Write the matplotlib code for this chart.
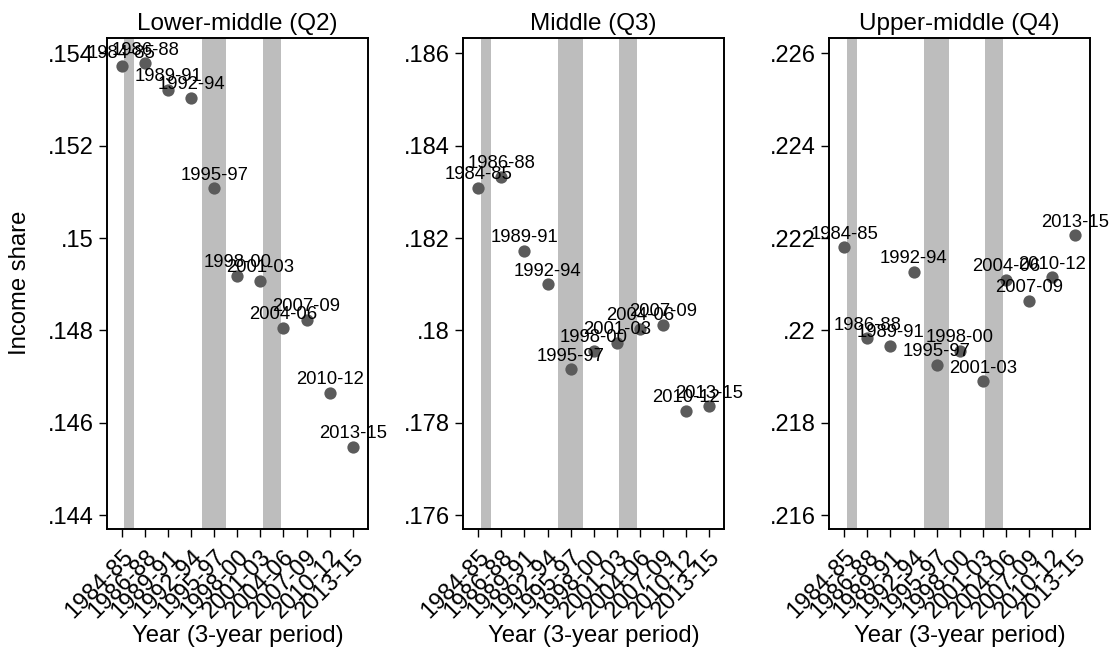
import matplotlib
matplotlib.use('Agg')
import matplotlib.pyplot as plt
from matplotlib.ticker import FuncFormatter

plt.rcParams['font.family'] = ['Liberation Sans', 'DejaVu Sans']

# periods on the x axis
periods = ['1984-85', '1986-88', '1989-91', '1992-94', '1995-97', '1998-00',
           '2001-03', '2004-06', '2007-09', '2010-12', '2013-15']

# income shares
q2_share = [.15372, .15378, .15321, .15303, .15108, .14918,
            .14907, .14806, .14823, .14665, .14548]
q3_share = [.18309, .18333, .18172, .18100, .17916, .17956,
            .17973, .18003, .18012, .17826, .17836]
q4_share = [.22180, .21983, .21967, .22127, .21926, .21956,
            .21890, .22110, .22064, .22115, .22206]

titles = ['Lower-middle (Q2)', 'Middle (Q3)', 'Upper-middle (Q4)']
y_ticks = [[.144, .146, .148, .15, .152, .154],
           [.176, .178, .18, .182, .184, .186],
           [.216, .218, .22, .222, .224, .226]]

# shaded bands (start, end) in period-index units
bands = [(0.10, 0.53), (3.45, 4.53), (6.12, 6.88)]

marker_col = '#5b5b5b'
band_col = '#bdbdbd'


def stata_fmt(v, pos):
    s = '%g' % round(v, 6)
    if s.startswith('0.'):
        s = s[1:]
    return s


fig = plt.figure(figsize=(11.14, 6.55), dpi=100)
lefts = [107 / 1114, 463.3 / 1114, 829.3 / 1114]
width = 0.234
bottom = 1 - 529 / 655
height = (529 - 38) / 655

x = list(range(len(periods)))
for k, share in enumerate([q2_share, q3_share, q4_share]):
    ax = fig.add_axes([lefts[k], bottom, width, height])
    for b0, b1 in bands:
        ax.axvspan(b0, b1, color=band_col, lw=0, zorder=1)
    ax.scatter(x, share, s=78, color=marker_col, lw=0, zorder=3)
    for xi, yi, lab in zip(x, share, periods):
        ax.annotate(lab, (xi, yi), xytext=(0, 6.2), textcoords='offset points',
                    ha='center', va='baseline', fontsize=13.3, zorder=4)
    yt = y_ticks[k]
    step = yt[1] - yt[0]
    ax.set_ylim(yt[0] - step * 0.15, yt[-1] + step * 0.165)
    ax.set_xlim(-0.65, 10.65)
    ax.set_yticks(yt)
    ax.yaxis.set_major_formatter(FuncFormatter(stata_fmt))
    ax.set_xticks(x)
    ax.set_xticklabels(periods, rotation=45, ha='right', va='top',
                       rotation_mode='anchor')
    ax.tick_params(axis='both', length=6, width=1, color='black')
    ax.tick_params(axis='y', labelsize=17)
    ax.tick_params(axis='x', labelsize=17, pad=6)
    for sp in ax.spines.values():
        sp.set_linewidth(1.4)
    ax.set_title(titles[k], fontsize=17.5, pad=6)
    ax.set_xlabel('Year (3-year period)', fontsize=17.2)
    ax.xaxis.set_label_coords(0.5, -0.195)

fig.text(20 / 1114, 1 - 283 / 655, 'Income share', rotation=90, fontsize=17.2,
         ha='center', va='center')

fig.savefig('out.png', dpi=100, facecolor='white')
